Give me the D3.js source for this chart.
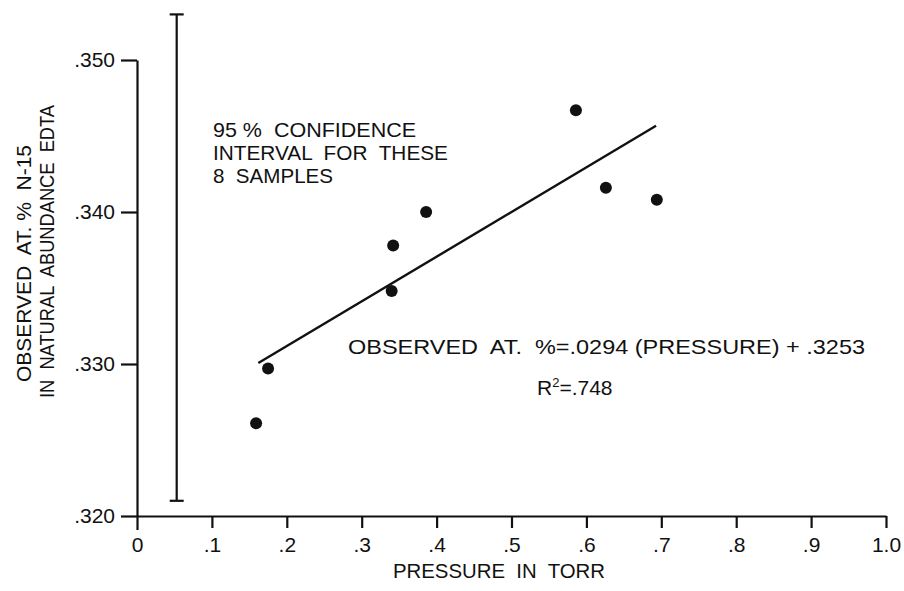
<!DOCTYPE html>
<html>
<head>
<meta charset="utf-8">
<script src="https://cdn.jsdelivr.net/npm/d3@7"></script>
<style>
  html, body { margin: 0; padding: 0; background: #fff; }
  svg text { font-family: "Liberation Sans", Arial, sans-serif; fill: #111; white-space: pre; }
</style>
</head>
<body>
<svg id="chart" width="904" height="591"></svg>
<script>
// Observed N-15 atom percent vs. sample pressure (8 samples)
const pressure = [0.159, 0.175, 0.340, 0.342, 0.386, 0.586, 0.626, 0.694];
const observed = [0.3261, 0.3297, 0.3348, 0.3378, 0.3400, 0.3467, 0.3416, 0.3408];

// Least-squares fit: observed = slope * pressure + intercept
const fitSlope = 0.0294;
const fitIntercept = 0.3253;
const fitRange = [0.162, 0.693];

// 95 % confidence interval bar
const ciX = 0.053;
const ciLow = 0.3210;
const ciHigh = 0.3530;

const xTicks = [0, 0.1, 0.2, 0.3, 0.4, 0.5, 0.6, 0.7, 0.8, 0.9, 1.0];
const xTickLabels = ["0", ".1", ".2", ".3", ".4", ".5", ".6", ".7", ".8", ".9", "1.0"];
const yTicks = [0.320, 0.330, 0.340, 0.350];
const yTickLabels = [".320", ".330", ".340", ".350"];

const svg = d3.select("#chart");
svg.append("rect").attr("width", 904).attr("height", 591).attr("fill", "#fff");

const x = d3.scaleLinear().domain([0, 1]).range([137, 886]);
const y = d3.scaleLinear().domain([0.320, 0.350]).range([516, 60]);

const ink = "#111";

// x axis
const xAxis = svg.append("g")
  .attr("transform", `translate(0,${y(0.320)})`)
  .call(d3.axisBottom(x).tickValues(xTicks)
    .tickFormat((d, i) => xTickLabels[i])
    .tickSize(12).tickSizeOuter(0).tickPadding(9));

// y axis
const yAxis = svg.append("g")
  .attr("transform", `translate(${x(0)},0)`)
  .call(d3.axisLeft(y).tickValues(yTicks)
    .tickFormat((d, i) => yTickLabels[i])
    .tickSize(16).tickSizeOuter(0).tickPadding(6));

[xAxis, yAxis].forEach(g => {
  g.select(".domain").attr("stroke", ink).attr("stroke-width", 2.2);
  g.selectAll(".tick line").attr("stroke", ink).attr("stroke-width", 2.2);
  g.selectAll(".tick text").attr("font-size", 21).attr("fill", ink)
    .attr("font-family", "Liberation Sans, Arial, sans-serif");
});
// the zero tick continues the vertical axis below the baseline
xAxis.selectAll(".tick").filter(d => d === 0).select("line").attr("y2", 14);

// confidence interval bar
const ci = svg.append("g").attr("stroke", ink).attr("stroke-width", 2.2);
ci.append("line").attr("x1", x(ciX)).attr("x2", x(ciX)).attr("y1", y(ciLow)).attr("y2", y(ciHigh));
[ciLow, ciHigh].forEach(v => {
  ci.append("line").attr("x1", x(ciX) - 7).attr("x2", x(ciX) + 7).attr("y1", y(v)).attr("y2", y(v));
});

// regression line
svg.append("line")
  .attr("x1", x(fitRange[0])).attr("y1", y(fitSlope * fitRange[0] + fitIntercept))
  .attr("x2", x(fitRange[1])).attr("y2", y(fitSlope * fitRange[1] + fitIntercept))
  .attr("stroke", ink).attr("stroke-width", 2.4);

// samples
svg.append("g").selectAll("circle")
  .data(pressure.map((p, i) => ({ p, o: observed[i] })))
  .join("circle")
  .attr("cx", d => x(d.p)).attr("cy", d => y(d.o))
  .attr("r", 6).attr("fill", ink);

// annotations
function label(txt, px, py, len, size = 21) {
  const t = svg.append("text").attr("x", px).attr("y", py).attr("font-size", size).text(txt);
  if (len) t.attr("textLength", len).attr("lengthAdjust", "spacingAndGlyphs");
  return t;
}
label("95 %  CONFIDENCE", 213, 137, 203);
label("INTERVAL  FOR  THESE", 213, 160, 235);
label("8  SAMPLES", 213, 183, 120);
label("OBSERVED  AT.  %=.0294 (PRESSURE) + .3253", 348, 354, 517);

const r2 = svg.append("text").attr("x", 537).attr("y", 395).attr("font-size", 21);
r2.append("tspan").text("R");
r2.append("tspan").attr("font-size", 13).attr("dy", -8).text("2");
r2.append("tspan").attr("dy", 8).text("=.748");

// axis titles
label("PRESSURE  IN  TORR", 393, 578, 212);
svg.append("text").attr("transform", "translate(31,382) rotate(-90)")
  .attr("font-size", 21).attr("textLength", 237).attr("lengthAdjust", "spacingAndGlyphs")
  .text("OBSERVED  AT. %  N-15");
svg.append("text").attr("transform", "translate(54,398) rotate(-90)")
  .attr("font-size", 21).attr("textLength", 293).attr("lengthAdjust", "spacingAndGlyphs")
  .text("IN  NATURAL  ABUNDANCE  EDTA");
</script>
</body>
</html>
